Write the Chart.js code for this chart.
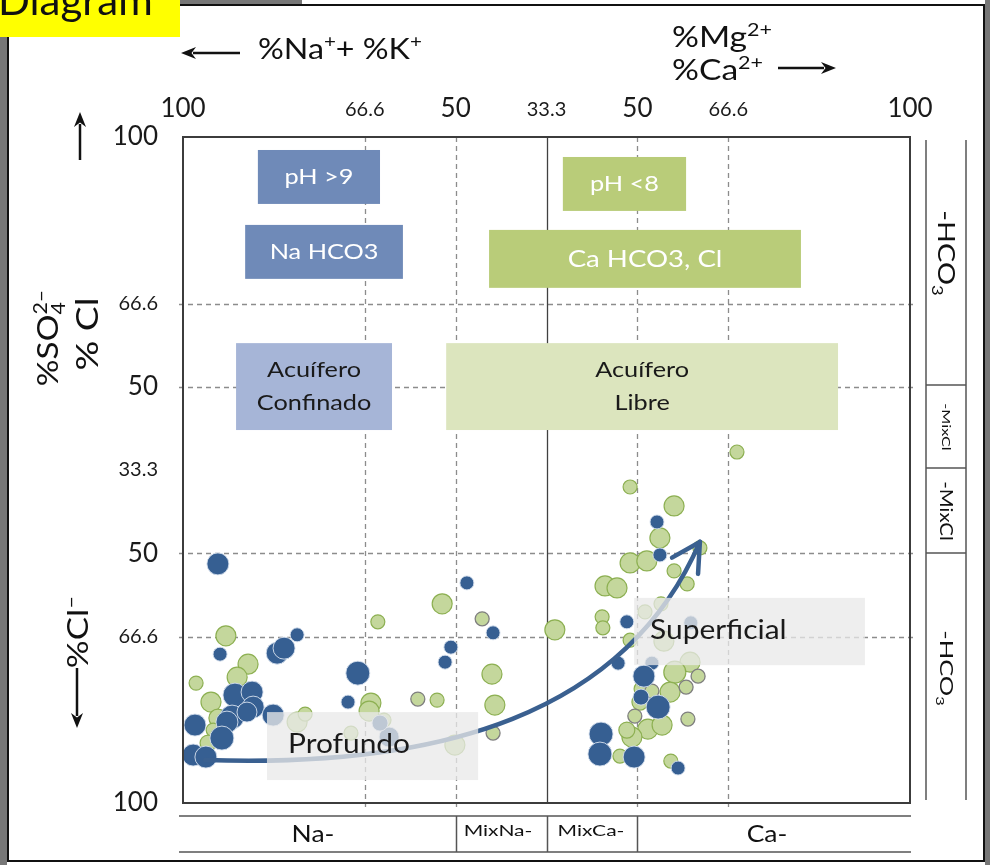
<!DOCTYPE html>
<html>
<head>
<meta charset="utf-8">
<script src="https://cdn.jsdelivr.net/npm/chart.js@4.4.1/dist/chart.umd.min.js"></script>
<style>
  html, body { margin: 0; padding: 0; background: #fff; }
  #wrap { width: 990px; height: 865px; position: relative; }
</style>
</head>
<body>
<div id="wrap"><canvas id="chadha" width="990" height="865"></canvas></div>
<script>
// tick positions (data units) and the text printed at each one
const xTickValues = [-100, -50, -25, 0, 25, 50, 100];
const xTickLabels = ['100', '66.6', '50', '33.3', '50', '66.6', '100'];
const yTickValues = [100, 50, 25, 0, -25, -50, -100];
const yTickLabels = ['100', '66.6', '50', '33.3', '50', '66.6', '100'];
const gridValues = [-50, -25, 25, 50];

// samples - blue (confinado)
const blueX = [-90.4, -89.8, -74.1, -72.2, -68.6, -85.7, -81.0, -96.7, -86.5, -87.9, -80.7, -82.4, -75.2, -89.3, -97.2, -93.7,
  -51.9, -54.6, -21.9, -14.7, -26.3, -27.9, -43.3, -45.8,
  30.4, 31.2, 22.1, 39.7, 29.0, 19.7, 26.8, 26.0, 30.7, 15.0, 14.7, 24.1, 36.2];
const blueY = [-28.2, -55.3, -55.0, -53.5, -49.5, -67.6, -66.7, -76.6, -74.2, -75.7, -71.2, -72.7, -73.6, -80.5, -85.6, -86.2,
  -61.0, -69.7, -33.9, -48.9, -53.2, -57.7, -80.2, -76.0,
  -15.6, -25.5, -45.6, -45.9, -58.0, -58.0, -61.9, -68.2, -71.2, -79.3, -85.3, -86.2, -89.5];
const blueR = [11, 7, 11, 11, 7, 12, 11, 11, 12, 11, 11, 10, 11, 12, 11, 11,
  12, 7, 7, 7, 7, 7, 10, 8,
  7, 7, 7, 7, 7, 7, 11, 8, 12, 12, 12, 11, 7];

// samples - green (libre)
const greenX = [-88.2, -96.4, -82.1, -85.1, -92.3, -90.4, -91.7, -93.1, -68.6, -66.4, -28.7, -46.4, -15.0, -30.1, -14.2, -48.3, -48.8, -44.7, -53.8, -25.2, 2.3,
  52.4, 23.0, 35.1, 31.2, 42.2, 23.0, 27.6, 35.1, 38.7, 16.1, 19.4, 15.3, 15.5, 27.1, 31.5, 32.3, 23.0, 39.5, 35.3, 34.0, 26.3, 25.7, 27.9, 31.8, 23.5, 22.1, 20.2, 34.2];
const greenY = [-49.8, -64.0, -58.3, -62.2, -69.7, -74.5, -78.1, -82.0, -75.7, -73.3, -40.2, -45.6, -61.3, -69.1, -70.6, -70.0, -72.4, -75.1, -79.0, -82.6, -48.0,
  5.4, -5.1, -10.8, -20.4, -23.4, -27.9, -27.3, -30.3, -34.2, -34.8, -35.4, -44.1, -47.4, -42.6, -40.2, -51.4, -51.1, -57.7, -60.7, -66.7, -65.8, -69.7, -77.8, -76.6, -80.2, -78.1, -85.9, -87.4];
const greenR = [10, 7, 10, 10, 10, 9, 7, 8, 10, 7, 10, 7, 10, 7, 10, 10, 10, 7, 7, 10, 10,
  7, 7, 10, 10, 7, 10, 10, 7, 7, 10, 10, 7, 7, 7, 7, 10, 7, 10, 11, 10, 8, 8, 10, 10, 10, 8, 7, 7];

// green samples drawn with a grey rim
const rimX = [-17.7, -35.4, -14.7, 41.7, 38.4, 29.0, 24.3, 38.9];
const rimY = [-44.7, -68.8, -79.0, -61.9, -65.2, -66.4, -73.9, -74.8];
const rimR = [7, 7, 7, 7, 7, 7, 7, 7];

const FONT = 'Lato, "Open Sans", sans-serif';
const SX = 1.15; // the original lettering runs wide

// labelled regions, in data units
const regionBoxes = [
  { lines: ['pH >9'], x0: -79.4, x1: -45.8, y0: 79.9, y1: 96.1, fill: '#6f8ab8', color: '#ffffff', size: 22 },
  { lines: ['Na HCO3'], x0: -82.9, x1: -39.5, y0: 57.4, y1: 73.6, fill: '#6f8ab8', color: '#ffffff', size: 22 },
  { lines: ['pH <8'], x0: 4.5, x1: 38.4, y0: 77.8, y1: 94.0, fill: '#b9cc79', color: '#ffffff', size: 22 },
  { lines: ['Ca HCO3, Cl'], x0: -15.8, x1: 70.0, y0: 54.7, y1: 72.1, fill: '#b9cc79', color: '#ffffff', size: 24 },
  { lines: ['Acuífero', 'Confinado'], x0: -85.4, x1: -42.5, y0: 12.0, y1: 38.1, fill: '#a6b5d7', color: '#1a1a1a', size: 22 },
  { lines: ['Acuífero', 'Libre'], x0: -27.6, x1: 80.2, y0: 12.0, y1: 38.1, fill: '#dce5be', color: '#1a1a1a', size: 22 }
];
const overlayBoxes = [
  { text: 'Profundo', x0: -76.9, x1: -18.8, y0: -93.1, y1: -72.7, padX: 21, size: 26 },
  { text: 'Superficial', x0: 24.1, x1: 87.6, y0: -58.6, y1: -38.4, padX: 16, size: 26 }
];
// evolution arrow as a cubic curve (data units)
const arrowPath = [[-93.9, -87.1], [-29.3, -89.5], [21.6, -73.6], [42.2, -21.6]];

function richText(ctx, parts, x, y, size, align, color, sx, baseline) {
  sx = sx || SX;
  const fs = p => `${p.k ? size * 0.64 : size}px ${FONT}`;
  let w = 0;
  parts.forEach(p => {
    ctx.font = fs(p);
    if (!p.stay) w += ctx.measureText(p.t).width;
  });
  const start = align === 'center' ? x - w * sx / 2 : (align === 'right' ? x - w * sx : x);
  ctx.save();
  ctx.translate(start, y);
  ctx.scale(sx, 1);
  ctx.textAlign = 'left';
  ctx.textBaseline = baseline || 'alphabetic';
  ctx.fillStyle = color || '#111';
  let cx = 0;
  parts.forEach(p => {
    ctx.font = fs(p);
    const dy = p.k === 'sup' ? -size * 0.4 : (p.k === 'sub' ? size * 0.22 : 0);
    ctx.fillText(p.t, cx, dy);
    if (!p.stay) cx += ctx.measureText(p.t).width;
  });
  ctx.restore();
}

function rotatedText(ctx, parts, cx, cy, size, angle, sx) {
  ctx.save();
  ctx.translate(cx, cy);
  ctx.rotate(angle);
  richText(ctx, parts, 0, size * 0.35, size, 'center', '#111', sx);
  ctx.restore();
}

function arrowLine(ctx, x1, y1, x2, y2) {
  const a = Math.atan2(y2 - y1, x2 - x1);
  const hl = 15, hw = 6;
  ctx.strokeStyle = '#111';
  ctx.fillStyle = '#111';
  ctx.lineWidth = 2.5;
  ctx.beginPath();
  ctx.moveTo(x1, y1);
  ctx.lineTo(x2 - Math.cos(a) * hl * 0.8, y2 - Math.sin(a) * hl * 0.8);
  ctx.stroke();
  ctx.beginPath();
  ctx.moveTo(x2, y2);
  ctx.lineTo(x2 - Math.cos(a) * hl - Math.sin(a) * hw, y2 - Math.sin(a) * hl + Math.cos(a) * hw);
  ctx.lineTo(x2 - Math.cos(a) * hl * 0.7, y2 - Math.sin(a) * hl * 0.7);
  ctx.lineTo(x2 - Math.cos(a) * hl + Math.sin(a) * hw, y2 - Math.sin(a) * hl - Math.cos(a) * hw);
  ctx.closePath();
  ctx.fill();
}

const decorPlugin = {
  id: 'decor',
  beforeDatasetsDraw(chart) {
    const { ctx, chartArea: a, scales: { x, y } } = chart;
    ctx.save();
    // dashed grid
    ctx.strokeStyle = '#8c8c8c';
    ctx.lineWidth = 1.3;
    ctx.setLineDash([5, 4]);
    gridValues.forEach(v => {
      const px = Math.round(x.getPixelForValue(v)) + 0.5;
      ctx.beginPath(); ctx.moveTo(px, a.top); ctx.lineTo(px, a.bottom + 4); ctx.stroke();
      const py = Math.round(y.getPixelForValue(v)) + 0.5;
      ctx.beginPath(); ctx.moveTo(a.left - 4, py); ctx.lineTo(a.right + 5, py); ctx.stroke();
    });
    ctx.setLineDash([]);
    // solid centre line
    ctx.strokeStyle = '#404040';
    ctx.lineWidth = 1.3;
    const cx0 = Math.round(x.getPixelForValue(0)) + 0.5;
    ctx.beginPath(); ctx.moveTo(cx0, a.top); ctx.lineTo(cx0, a.bottom); ctx.stroke();

    // region boxes
    regionBoxes.forEach(b => {
      const l = x.getPixelForValue(b.x0), r = x.getPixelForValue(b.x1);
      const t = y.getPixelForValue(b.y1), btm = y.getPixelForValue(b.y0);
      ctx.fillStyle = b.fill;
      ctx.fillRect(l, t, r - l, btm - t);
      const lh = 33;
      const mid = (t + btm) / 2;
      b.lines.forEach((txt, i) => {
        richText(ctx, [{ t: txt }], (l + r) / 2, mid + (i - (b.lines.length - 1) / 2) * lh, b.size, 'center', b.color, SX, 'middle');
      });
    });
    ctx.restore();
  },
  afterDatasetsDraw(chart) {
    const { ctx, chartArea: a, scales: { x, y } } = chart;
    ctx.save();
    // evolution arrow
    const p = arrowPath.map(([dx, dy]) => [x.getPixelForValue(dx), y.getPixelForValue(dy)]);
    ctx.strokeStyle = '#3a6090';
    ctx.lineWidth = 4.5;
    ctx.lineCap = 'round';
    ctx.beginPath();
    ctx.moveTo(p[0][0], p[0][1]);
    ctx.bezierCurveTo(p[1][0], p[1][1], p[2][0], p[2][1], p[3][0], p[3][1]);
    ctx.stroke();
    const ang = Math.atan2(p[3][1] - p[2][1], p[3][0] - p[2][0]) + 0.15;
    [0.5, -0.5].forEach(s => {
      ctx.beginPath();
      ctx.moveTo(p[3][0], p[3][1]);
      ctx.lineTo(p[3][0] - 32 * Math.cos(ang + s), p[3][1] - 32 * Math.sin(ang + s));
      ctx.stroke();
    });

    // translucent labels over the samples
    overlayBoxes.forEach(b => {
      const l = x.getPixelForValue(b.x0), r = x.getPixelForValue(b.x1);
      const t = y.getPixelForValue(b.y1), btm = y.getPixelForValue(b.y0);
      ctx.fillStyle = 'rgba(233,233,233,0.76)';
      ctx.fillRect(l, t, r - l, btm - t);
      richText(ctx, [{ t: b.text }], l + b.padX, (t + btm) / 2 - 1, b.size, 'left', '#1a1a1a', SX, 'middle');
    });

    // plot frame
    ctx.strokeStyle = '#3c3c3c';
    ctx.lineWidth = 2;
    ctx.strokeRect(Math.round(a.left), Math.round(a.top), Math.round(a.right - a.left), Math.round(a.bottom - a.top));
    ctx.restore();
  },
  afterDraw(chart) {
    const { ctx, scales: { x } } = chart;
    ctx.save();
    // page frame
    ctx.fillStyle = '#777';
    ctx.fillRect(0, 37, 7, 828);
    ctx.fillRect(180, 0, 122, 4);
    ctx.fillRect(985, 0, 5, 865);
    ctx.strokeStyle = '#111';
    ctx.lineWidth = 2;
    ctx.beginPath();
    ctx.moveTo(180, 5); ctx.lineTo(984, 5); ctx.lineTo(984, 861); ctx.lineTo(8, 861); ctx.lineTo(8, 37);
    ctx.stroke();
    ctx.fillStyle = '#ffff00';
    ctx.fillRect(0, 0, 180, 37);
    richText(ctx, [{ t: 'Diagram' }], -2, 15, 40, 'left', '#111', 1.05);

    // top axis titles
    arrowLine(ctx, 240, 53, 181, 53);
    richText(ctx, [{ t: '%Na' }, { t: '+', k: 'sup' }, { t: '+ %K' }, { t: '+', k: 'sup' }], 258, 59, 28, 'left', '#111');
    richText(ctx, [{ t: '%Mg' }, { t: '2+', k: 'sup' }], 672, 47, 28, 'left', '#111', 1.2);
    richText(ctx, [{ t: '%Ca' }, { t: '2+', k: 'sup' }], 672, 80, 28, 'left', '#111', 1.2);
    arrowLine(ctx, 778, 68, 836, 68);

    // left axis titles
    arrowLine(ctx, 80, 160, 80, 112);
    rotatedText(ctx, [{ t: '%SO' }, { t: '4', k: 'sub', stay: true }, { t: '2–', k: 'sup' }], 48, 338, 29, -Math.PI / 2);
    rotatedText(ctx, [{ t: '% Cl' }], 87, 334, 31, -Math.PI / 2, 1.2);
    rotatedText(ctx, [{ t: '%Cl' }, { t: '–', k: 'sup' }], 78, 632, 29, -Math.PI / 2, 1.2);
    arrowLine(ctx, 77, 668, 77, 728);

    // right column (anion facies)
    ctx.strokeStyle = '#555';
    ctx.lineWidth = 1.5;
    ctx.beginPath();
    ctx.moveTo(926, 140); ctx.lineTo(926, 800);
    ctx.moveTo(966, 140); ctx.lineTo(966, 800);
    [385, 468, 553].forEach(v => { ctx.moveTo(926, v); ctx.lineTo(966, v); });
    ctx.stroke();
    rotatedText(ctx, [{ t: '-HCO' }, { t: '3', k: 'sub' }], 946, 253, 24, Math.PI / 2, 1.2);
    rotatedText(ctx, [{ t: '-MixCl' }], 946, 427, 12, Math.PI / 2, 1.35);
    rotatedText(ctx, [{ t: '-MixCl' }], 946, 511, 17, Math.PI / 2, 1.2);
    rotatedText(ctx, [{ t: '-HCO' }, { t: '3', k: 'sub' }], 946, 668, 17, Math.PI / 2, 1.5);

    // bottom row (cation facies)
    ctx.beginPath();
    ctx.moveTo(179, 816); ctx.lineTo(911, 816);
    ctx.moveTo(179, 852); ctx.lineTo(911, 852);
    [-25, 0, 25].forEach(v => {
      const px = Math.round(x.getPixelForValue(v)) + 0.5;
      ctx.moveTo(px, 816); ctx.lineTo(px, 852);
    });
    ctx.stroke();
    richText(ctx, [{ t: 'Na-' }], 313, 835, 23, 'center', '#111', SX, 'middle');
    richText(ctx, [{ t: 'Ca-' }], 767, 835, 23, 'center', '#111', SX, 'middle');
    richText(ctx, [{ t: 'MixNa-' }], 498, 831, 15, 'center', '#111', 1.4, 'middle');
    richText(ctx, [{ t: 'MixCa-' }], 591, 831, 15, 'center', '#111', 1.4, 'middle');
    ctx.restore();
  }
};

// big numbers for 100/50, smaller ones for 66.6/33.3
const tickFont = (labels, values) => ctx => {
  const i = values.indexOf(ctx.tick && ctx.tick.value);
  const small = (labels[i] || '').length > 3;
  return { family: FONT, size: small ? 20 : 26, lineHeight: small ? 1.4 : 1.2 };
};

const toPoints = (xs, ys, rs) => xs.map((v, i) => ({ x: v, y: ys[i], r: rs[i] }));

new Chart(document.getElementById('chadha'), {
  type: 'bubble',
  data: {
    datasets: [
      {
        label: 'Acuífero confinado',
        data: toPoints(blueX, blueY, blueR),
        backgroundColor: '#365f92',
        borderColor: 'rgba(215,225,238,0.9)',
        borderWidth: 1
      },
      {
        label: 'Acuífero libre (borde gris)',
        data: toPoints(rimX, rimY, rimR),
        backgroundColor: '#c4d79c',
        borderColor: '#7f7f7f',
        borderWidth: 1.3
      },
      {
        label: 'Acuífero libre',
        data: toPoints(greenX, greenY, greenR),
        backgroundColor: '#c4d79c',
        borderColor: '#8db052',
        borderWidth: 1.2
      }
    ]
  },
  options: {
    responsive: false,
    devicePixelRatio: 1,
    animation: false,
    layout: { padding: { left: 0, top: 0, right: 80, bottom: 62 } },
    plugins: { legend: { display: false }, tooltip: { enabled: false } },
    elements: { point: { hoverRadius: 0 } },
    scales: {
      x: {
        type: 'linear',
        position: 'top',
        min: -100,
        max: 100,
        afterBuildTicks: s => { s.ticks = xTickValues.map(v => ({ value: v })); },
        afterFit: s => { s.height = 137; },
        grid: { display: false, tickLength: 0 },
        border: { display: false },
        ticks: {
          autoSkip: false,
          maxRotation: 0,
          padding: 13,
          color: '#1a1a1a',
          font: tickFont(xTickLabels, xTickValues),
          callback: v => xTickLabels[xTickValues.indexOf(v)]
        }
      },
      y: {
        type: 'linear',
        min: -100,
        max: 100,
        afterBuildTicks: s => { s.ticks = yTickValues.map(v => ({ value: v })); },
        afterFit: s => { s.width = 183; },
        grid: { display: false, tickLength: 0 },
        border: { display: false },
        ticks: {
          autoSkip: false,
          padding: 25,
          color: '#1a1a1a',
          font: tickFont(yTickLabels, yTickValues),
          callback: v => yTickLabels[yTickValues.indexOf(v)]
        }
      }
    }
  },
  plugins: [decorPlugin]
});
</script>
</body>
</html>
